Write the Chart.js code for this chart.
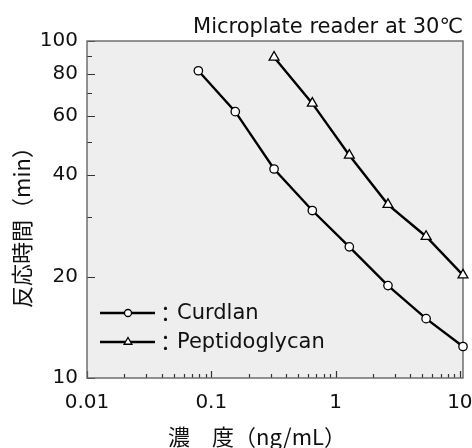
<!doctype html>
<html lang="ja">
<head>
    <meta charset="utf-8">
    <title>Microplate reader at 30℃</title>
    <script src="https://cdn.jsdelivr.net/npm/chart.js@4.4.1/dist/chart.umd.min.js"></script>
    <style>
        html, body { margin: 0; padding: 0; background: #fff; }
        #wrap { width: 472px; height: 448px; }
    </style>
</head>
<body>
<div id="wrap"><canvas id="myChart" width="472" height="448"></canvas></div>
<script type="text/javascript">
    // concentrations (ng/mL) and reaction times (min)
    const curdlanConc = [0.0787, 0.156, 0.32, 0.65, 1.29, 2.64, 5.35, 10.6]
    const curdlanTime = [81.6, 61.7, 41.7, 31.4, 24.5, 18.8, 15.0, 12.4]
    const peptidoConc = [0.32, 0.65, 1.29, 2.64, 5.35, 10.6]
    const peptidoTime = [89.5, 65.3, 45.8, 32.7, 26.3, 20.2]

    const seriesNames = ['Curdlan', 'Peptidoglycan']
    const seriesMarkers = ['circle', 'triangle']

    const xMin = 0.01
    const xMax = 10.6
    const xTickValues = [0.01, 0.02, 0.03, 0.04, 0.05, 0.06, 0.07, 0.08, 0.09,
        0.1, 0.2, 0.3, 0.4, 0.5, 0.6, 0.7, 0.8, 0.9,
        1, 2, 3, 4, 5, 6, 7, 8, 9, 10]
    const xTickLabels = [0.01, 0.1, 1, 10]
    const yTickValues = [10, 20, 30, 40, 50, 60, 70, 80, 90, 100]
    const yTickLabels = [10, 20, 40, 60, 80, 100]

    const chartTitle = 'Microplate reader at 30℃'
    const xTitle = '濃　度（ng/mL）'
    const yTitle = '反応時間（min）'

    const latinFont = '"DejaVu Sans", "Liberation Sans", sans-serif'
    const cjkFont = '"Noto Sans CJK JP", "DejaVu Sans", sans-serif'

    function toPoints(xs, ys) {
        return xs.map((x, i) => ({x: x, y: ys[i]}))
    }

    const decorPlugin = {
        id: 'decor',
        beforeDatasetsDraw(chart) {
            const {ctx, chartArea: a, scales} = chart
            ctx.save()
            ctx.fillStyle = '#eeeeee'
            ctx.fillRect(a.left, a.top, a.right - a.left, a.bottom - a.top)
            // inward tick marks
            ctx.strokeStyle = '#333'
            ctx.lineWidth = 1.2
            ctx.beginPath()
            xTickValues.forEach(v => {
                const px = Math.round(scales.x.getPixelForValue(v)) + 0.5
                const len = xTickLabels.includes(v) ? 7 : 4
                ctx.moveTo(px, a.bottom)
                ctx.lineTo(px, a.bottom - len)
            })
            yTickValues.forEach(v => {
                const py = Math.round(scales.y.getPixelForValue(v)) + 0.5
                const len = yTickLabels.includes(v) ? 8 : 5
                ctx.moveTo(a.left, py)
                ctx.lineTo(a.left + len, py)
            })
            ctx.stroke()
            ctx.strokeStyle = '#666'
            ctx.lineWidth = 1.4
            ctx.strokeRect(a.left, a.top, a.right - a.left, a.bottom - a.top)
            ctx.restore()
        },
        afterDraw(chart) {
            const {ctx, chartArea: a} = chart
            ctx.save()
            ctx.fillStyle = '#111'
            // title
            ctx.font = '21px ' + latinFont
            ctx.textAlign = 'right'
            ctx.textBaseline = 'alphabetic'
            ctx.fillText(chartTitle, a.right, 33)
            // axis titles
            ctx.font = '22px ' + cjkFont
            ctx.textAlign = 'center'
            ctx.textBaseline = 'middle'
            ctx.fillText(xTitle, 257, 437)
            ctx.translate(22, 222)
            ctx.rotate(-Math.PI / 2)
            ctx.fillText(yTitle, 0, 0)
            ctx.restore()

            // legend inside the plot
            ctx.save()
            const rows = [313, 342]
            seriesNames.forEach((name, i) => {
                const y = rows[i]
                ctx.strokeStyle = '#000'
                ctx.lineWidth = 2.4
                ctx.beginPath()
                ctx.moveTo(a.left + 13, y)
                ctx.lineTo(a.left + 68, y)
                ctx.stroke()
                ctx.fillStyle = '#fff'
                ctx.lineWidth = 1.3
                Chart.helpers.drawPoint(ctx, {
                    pointStyle: seriesMarkers[i],
                    radius: i === 0 ? 3.5 : 4.5,
                    rotation: 0,
                    borderWidth: 1.3
                }, a.left + 41, y)
                ctx.fillStyle = '#111'
                ctx.font = '21px ' + cjkFont
                ctx.textAlign = 'left'
                ctx.textBaseline = 'middle'
                ctx.fillText('：', a.left + 68, y)
                ctx.font = '21px ' + latinFont
                ctx.fillText(name, a.left + 90, y + 1)
            })
            ctx.restore()
        }
    }

    const data = {
        datasets: [
            {
                label: seriesNames[0],
                data: toPoints(curdlanConc, curdlanTime),
                borderColor: '#000',
                borderWidth: 2.4,
                pointStyle: seriesMarkers[0],
                pointRadius: 4.2,
                pointBorderWidth: 1.3,
                pointBackgroundColor: '#fff',
                pointBorderColor: '#000',
                clip: false
            },
            {
                label: seriesNames[1],
                data: toPoints(peptidoConc, peptidoTime),
                borderColor: '#000',
                borderWidth: 2.4,
                pointStyle: seriesMarkers[1],
                pointRadius: 5.7,
                pointBorderWidth: 1.3,
                pointBackgroundColor: '#fff',
                pointBorderColor: '#000',
                clip: false
            }
        ]
    }

    const config = {
        type: 'line',
        data: data,
        plugins: [decorPlugin],
        options: {
            responsive: false,
            animation: false,
            devicePixelRatio: 1,
            layout: {padding: {top: 41, right: 9, left: 0, bottom: 0}},
            plugins: {
                legend: {display: false},
                tooltip: {enabled: false}
            },
            scales: {
                x: {
                    type: 'logarithmic',
                    min: xMin,
                    max: xMax,
                    grid: {display: false, drawTicks: false},
                    border: {display: false},
                    afterBuildTicks: s => { s.ticks = xTickValues.map(v => ({value: v})) },
                    afterFit: s => { s.height = 70; s.paddingLeft = 0; s.paddingRight = 0 },
                    ticks: {
                        autoSkip: false,
                        maxRotation: 0,
                        padding: 13,
                        color: '#111',
                        font: {family: latinFont, size: 20},
                        callback: v => xTickLabels.includes(v) ? String(v) : ''
                    }
                },
                y: {
                    type: 'logarithmic',
                    min: 10,
                    max: 100,
                    grid: {display: false, drawTicks: false},
                    border: {display: false},
                    afterBuildTicks: s => { s.ticks = yTickValues.map(v => ({value: v})) },
                    afterFit: s => { s.width = 87; s.paddingTop = 0; s.paddingBottom = 0 },
                    ticks: {
                        autoSkip: false,
                        padding: 9,
                        color: '#111',
                        font: {family: latinFont, size: 20},
                        callback: v => yTickLabels.includes(v) ? String(v) : ''
                    }
                }
            }
        }
    }

    const ctx = document.getElementById('myChart')
    const myChart = new Chart(ctx, config)
</script>
</body>
</html>
